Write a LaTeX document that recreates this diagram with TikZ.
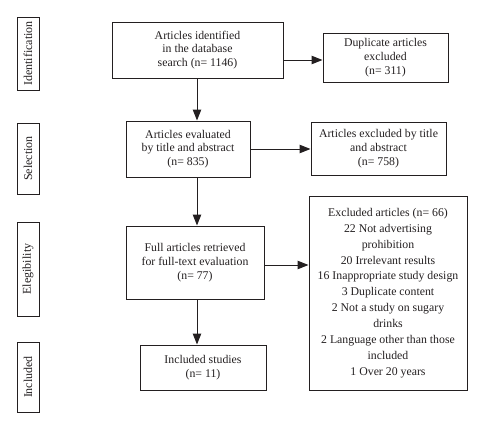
\documentclass[tikz,border=0pt]{standalone}
\usepackage{fontspec}
\setmainfont{Liberation Serif}
\usetikzlibrary{arrows.meta}
\definecolor{ink}{HTML}{231F20}
\begin{document}
\begin{tikzpicture}[x=1pt,y=-1pt,
  box/.style={draw=ink,line width=1pt,text=ink,align=center,inner sep=0pt,
    font=\fontsize{11.8}{13.8}\selectfont},
  bigbox/.style={box,font=\fontsize{11.8}{15.9}\selectfont},
  side/.style={draw=ink,line width=1pt,text=ink,inner sep=0pt,rotate=90,
    font=\fontsize{12}{13}\selectfont},
  arr/.style={draw=ink,line width=1pt,-{Triangle[length=11pt,width=8.5pt]}}]
\useasboundingbox (0,0) rectangle (484,434);
% side labels
\node[side,minimum width=73pt,minimum height=22pt] (lid) at (28,53.5) {Identification};
\node[side,minimum width=71pt,minimum height=22pt] (lse) at (28,158.5) {Selection};
\node[side,minimum width=94pt,minimum height=22pt] (lel) at (28,269) {Elegibility};
\node[side,minimum width=70pt,minimum height=22pt] (lin) at (28,377) {Included};
% main boxes
\node[box,minimum width=171pt,minimum height=56pt] (b1) at (197.5,50) {Articles identified\\in the database\\search (n= 1146)};
\node[box,minimum width=124pt,minimum height=56pt] (b2) at (188,149) {Articles evaluated\\by title and abstract\\(n= 835)};
\node[box,minimum width=138pt,minimum height=73pt] (b3) at (195,262.5) {Full articles retrieved\\for full-text evaluation\\(n= 77)};
\node[box,minimum width=126pt,minimum height=45pt] (b4) at (203,367.5) {Included studies\\(n= 11)};
% side boxes
\node[box,minimum width=125pt,minimum height=49pt] (e1) at (385.5,57.5) {Duplicate articles\\excluded\\(n= 311)};
\node[box,minimum width=135pt,minimum height=53pt] (e2) at (378.5,148.5) {Articles excluded by title\\and abstract\\(n= 758)};
\node[bigbox,minimum width=158pt,minimum height=194pt] (e3) at (388,293) {Excluded articles (n= 66)\\22 Not advertising\\prohibition\\20 Irrelevant results\\16 Inappropriate study design\\3 Duplicate content\\2 Not a study on sugary\\drinks\\2 Language other than those\\included\\1 Over 20 years};
% coordinates for arrows
\coordinate (c1) at (197,78);
\coordinate (c2) at (197,177);
\coordinate (c3) at (197,299);
\draw[arr] (c1) -- (c1 |- b2.north);
\draw[arr] (c2) -- (c2 |- b3.north);
\draw[arr] (c3) -- (c3 |- b4.north);
\coordinate (h1) at (283,60);
\coordinate (h3) at (264,265);
\draw[arr] (h1) -- (h1 -| e1.west);
\draw[arr] (b2.east) -- (b2.east -| e2.west);
\draw[arr] (h3) -- (h3 -| e3.west);
\end{tikzpicture}
\end{document}
